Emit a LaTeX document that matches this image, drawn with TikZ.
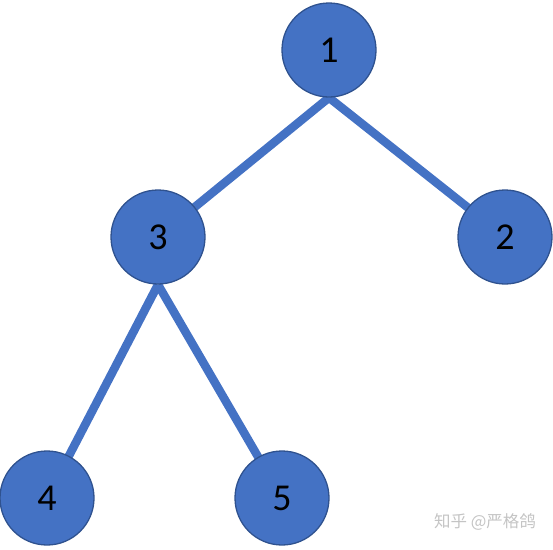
\documentclass[tikz,border=0pt]{standalone}
\usepackage{fontspec}
\setmainfont{Carlito}
\newfontfamily\cjk{Noto Sans CJK SC}
\usetikzlibrary{backgrounds}
\definecolor{nodeblue}{HTML}{4472C4}
\definecolor{rimblue}{HTML}{2F528F}
\definecolor{markgray}{HTML}{C4C4C4}
\begin{document}
\begin{tikzpicture}[x=1pt,y=-1pt,
  vtx/.style={circle,draw=rimblue,fill=nodeblue,line width=1.3pt,minimum size=94pt,inner sep=0pt,font=\fontsize{38}{38}\selectfont},
  branch/.style={draw=nodeblue,line width=8.5pt}]
\useasboundingbox (0,0) rectangle (553,549);
\node[vtx] (n1) at (329,50) {1};
\node[vtx] (n3) at (158,237) {3};
\node[vtx] (n2) at (505,237) {2};
\node[vtx] (n4) at (47,498) {4};
\node[vtx] (n5) at (282,498) {5};
\begin{scope}[on background layer]
\draw[branch] (n1.south) -- (n3.center);
\draw[branch] (n1.south) -- (n2.center);
\draw[branch] (n3.south) -- (n4.center);
\draw[branch] (n3.south) -- (n5.center);
\end{scope}
\node[text=markgray,font=\cjk\fontsize{16.5}{16.5}\selectfont,inner sep=0pt] (mark) at (485,522) {知乎 @严格鸽};
\end{tikzpicture}
\end{document}
